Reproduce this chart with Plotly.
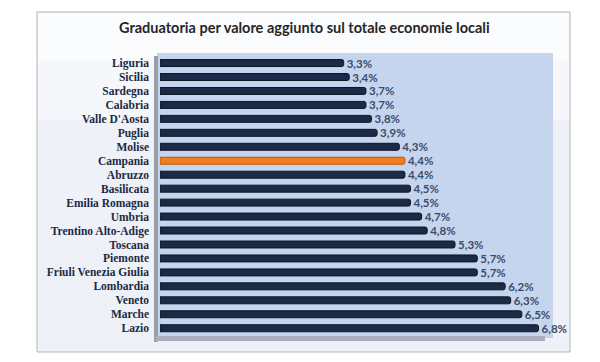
import plotly.graph_objects as go

regions = ["Liguria", "Sicilia", "Sardegna", "Calabria", "Valle D'Aosta", "Puglia",
           "Molise", "Campania", "Abruzzo", "Basilicata", "Emilia Romagna", "Umbria",
           "Trentino Alto-Adige", "Toscana", "Piemonte", "Friuli Venezia Giulia",
           "Lombardia", "Veneto", "Marche", "Lazio"]
values = [3.3, 3.4, 3.7, 3.7, 3.8, 3.9, 4.3, 4.4, 4.4, 4.5, 4.5, 4.7, 4.8, 5.3,
          5.7, 5.7, 6.2, 6.3, 6.5, 6.8]
labels = [f"{v:.1f}%".replace(".", ",") for v in values]
highlight = "Campania"
title = "Graduatoria per valore aggiunto sul totale economie locali"

W, H = 600, 362
L, R, T, B = 160, 553, 53, 338


def px(x):
    return (x - L) / (R - L)


def py(y):
    return (B - y) / (B - T)


colors = ["#f07d1e" if r == highlight else "#1b2a47" for r in regions]
lines = ["#b35a10" if r == highlight else "#0d1628" for r in regions]

fig = go.Figure(go.Bar(
    x=values, y=regions, orientation="h",
    marker=dict(color=colors, line=dict(color=lines, width=1), cornerradius=2),
    width=0.5,
    text=labels, textposition="outside", cliponaxis=False, constraintext="none",
    textfont=dict(family="Lato", size=11.5, color="#3d4c6b", weight="bold"),
))

shapes = [
    # outer frame
    dict(type="rect", xref="paper", yref="paper", x0=px(37), x1=px(570), y0=py(352), y1=py(12),
         fillcolor="#eef2f8", line=dict(color="#b4b4b4", width=1), layer="below"),
    dict(type="rect", xref="paper", yref="paper", x0=px(38), x1=px(569), y0=py(120), y1=py(13),
         fillcolor="#f5f7fb", line=dict(width=0), layer="below"),
    dict(type="rect", xref="paper", yref="paper", x0=px(38), x1=px(569), y0=py(60), y1=py(13),
         fillcolor="#fbfcfe", line=dict(width=0), layer="below"),
    # plot area
    dict(type="rect", xref="paper", yref="paper", x0=px(157), x1=px(553), y0=py(338), y1=py(53),
         fillcolor="#c6d5ee", line=dict(width=0), layer="below"),
    # 3D wall and floor
    dict(type="rect", xref="paper", yref="paper", x0=px(154), x1=px(158), y0=py(342), y1=py(56),
         fillcolor="#9a9ea6", line=dict(width=0), layer="below"),
    dict(type="rect", xref="paper", yref="paper", x0=px(156), x1=px(545), y0=py(341), y1=py(336),
         fillcolor="#a9b0bc", line=dict(width=0), layer="below"),
]

fig.update_layout(
    width=W, height=H,
    margin=dict(l=L, r=W - R, t=T, b=H - B),
    paper_bgcolor="white", plot_bgcolor="rgba(0,0,0,0)",
    showlegend=False, shapes=shapes,
    annotations=[dict(text=title, xref="paper", yref="paper", x=px(304), y=py(28),
                      xanchor="center", yanchor="middle", showarrow=False,
                      font=dict(family="Lato", size=14.5, color="#262626", weight="bold"))],
    xaxis=dict(range=[0, 7.06], showgrid=False, zeroline=False, showticklabels=False,
               fixedrange=True),
    yaxis=dict(categoryorder="array", categoryarray=regions, range=[19.7, -0.72],
               tickmode="linear", dtick=1, tick0=0,
               showgrid=False, zeroline=False, ticks="", ticklabelstandoff=10,
               tickfont=dict(family="Liberation Serif", size=11.5, color="#1d2942", weight="bold")),
)

fig.write_html("out.html")
